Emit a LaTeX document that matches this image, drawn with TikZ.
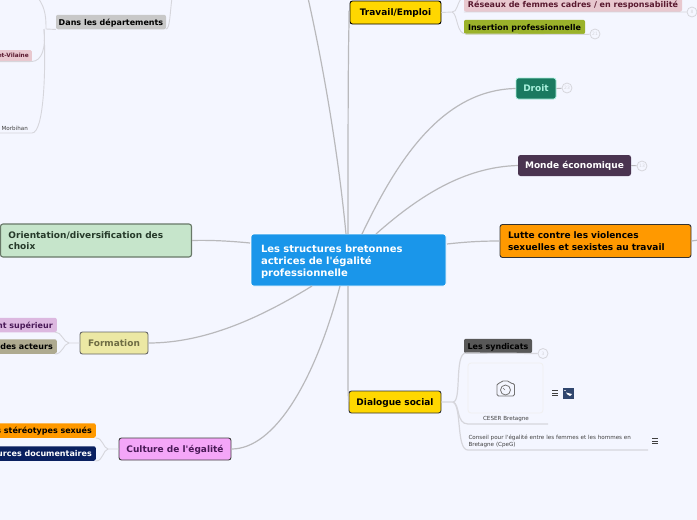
\documentclass[tikz,border=0pt]{standalone}
\usepackage{fontspec}
\setmainfont{DejaVu Sans}
\newfontfamily\straightf{DejaVu Sans}
\newcommand{\ap}{{\straightf'}}
\definecolor{bgc}{HTML}{F4F6FF}
\definecolor{linkmain}{HTML}{B9B9BC}
\definecolor{linksub}{HTML}{D6D6DC}
\definecolor{centralc}{HTML}{1A96EA}
\definecolor{yellowc}{HTML}{FFD700}
\definecolor{pinkc}{HTML}{E8C8CF}
\definecolor{maroonc}{HTML}{5A1A30}
\definecolor{olivec}{HTML}{9AB22A}
\definecolor{droitc}{HTML}{1A7A60}
\definecolor{droitt}{HTML}{A8F0DC}
\definecolor{mondec}{HTML}{4A3450}
\definecolor{orangec}{HTML}{FF9900}
\definecolor{synd}{HTML}{585858}
\definecolor{orientc}{HTML}{C6E5CB}
\definecolor{orientb}{HTML}{687868}
\definecolor{orientt}{HTML}{263A2A}
\definecolor{formc}{HTML}{ECE8A4}
\definecolor{formt}{HTML}{6E6C44}
\definecolor{ensc}{HTML}{DCB8E0}
\definecolor{enst}{HTML}{4A1A58}
\definecolor{acteurc}{HTML}{AEAA90}
\definecolor{cultc}{HTML}{F4A6F8}
\definecolor{navyc}{HTML}{0A2060}
\definecolor{grayc}{HTML}{C8C8C8}
\definecolor{iconc}{HTML}{30466E}
\tikzset{
  x=1pt,y=-1pt,
  boxn/.style={rectangle,rounded corners=2.5pt,inner sep=0pt,font=\bfseries\fontsize{9}{11.5}\selectfont,align=center},
  oneline/.style={text height=8pt,text depth=1.4pt},
  mainbox/.style={boxn,draw=#1,line width=0.9pt},
  subn/.style={boxn,oneline,rounded corners=2pt,font=\bfseries\fontsize{8}{10}\selectfont,minimum height=14.5pt},
  mainlink/.style={draw=linkmain,line width=1.2pt},
  sublink/.style={draw=linksub,line width=0.9pt},
  countc/.style={circle,draw=linksub,line width=0.8pt,minimum size=10pt,inner sep=0pt,font=\fontsize{4.5}{5}\selectfont,text=linksub},
  plain/.style={inner sep=0pt,text=black!75,font=\fontsize{5.6}{7.2}\selectfont,align=left},
}
\begin{document}
\begin{tikzpicture}
\useasboundingbox (0,0) rectangle (697,520);
\clip (0,0) rectangle (697,520);
\fill[bgc] (0,0) rectangle (697,520);

% anchor points on the central topic and free ends
\coordinate (cTopOff) at (308,-2);
\coordinate (cA) at (346,234);
\coordinate (cB) at (348,234);
\coordinate (cC) at (362,234);
\coordinate (cD) at (376,234);
\coordinate (cE) at (447,244);
\coordinate (cF) at (250,243);
\coordinate (cG) at (312,286);
\coordinate (cH) at (340,286);
\coordinate (cI) at (348,286);

% nodes
\node[boxn,draw=white,line width=0.8pt,fill=centralc,text=white,minimum width=195pt,minimum height=52pt,text width=175pt,align=left,font=\bfseries\fontsize{10}{12}\selectfont] (central) at (348.5,260) {\rule{0pt}{12pt}Les structures bretonnes\\actrices de l\ap égalité\\professionnelle};

\node[mainbox=black,oneline,fill=yellowc,minimum width=91pt,minimum height=23pt] (travail) at (395.5,12.5) {Travail/Emploi};
\node[subn,fill=pinkc,text=maroonc,minimum width=218pt] (reseaux) at (573,4.5) {Réseaux de femmes cadres / en responsabilité};
\node[subn,fill=olivec,text=black,minimum width=121pt] (insertion) at (524.5,27) {Insertion professionnelle};
\node[boxn,oneline,draw=droitt,line width=0.7pt,fill=droitc,text=droitt,minimum width=40pt,minimum height=21pt] (droit) at (536,88.5) {Droit};
\node[boxn,oneline,fill=mondec,text=white,minimum width=113pt,minimum height=21pt] (monde) at (574.5,165.5) {Monde économique};
\node[mainbox=black!80,fill=orangec,minimum width=191pt,minimum height=33pt,text width=175pt,align=left] (lutte) at (595.5,241) {Lutte contre les violences\\sexuelles et sexistes au travail};

\node[mainbox=black!80,oneline,fill=yellowc,minimum width=92pt,minimum height=22pt] (dialogue) at (395,402) {Dialogue social};
\node[subn,fill=synd,text=black,minimum width=68pt] (syndicats) at (498,346) {Les syndicats};
\node[rectangle,rounded corners=3pt,draw=black!6,line width=0.8pt,fill=bgc,minimum width=75pt,minimum height=50pt,inner sep=0pt] (image) at (505.5,388) {};
\node[plain] (ceser) at (506,419) {CESER Bretagne};
\node[plain,text width=175pt] (conseil) at (556,441.5) {Conseil pour l\ap égalité entre les femmes et les hommes en\\Bretagne (CpeG)};

\node[mainbox=orientb,line width=1.1pt,fill=orientc,text=orientt,minimum width=191pt,minimum height=33pt,text width=175pt,align=left] (orient) at (96,240.5) {Orientation/diversification des\\choix};
\node[mainbox=black!60,oneline,fill=formc,text=formt,minimum width=68pt,minimum height=22pt] (formation) at (114,343) {Formation};
\node[subn,fill=ensc,text=enst,anchor=east] (ens) at (57,325) {\hspace{8pt}Enseignement supérieur\hspace{4pt}};
\node[subn,fill=acteurc,text=black,anchor=east] (acteurs) at (57,346.5) {\hspace{8pt}Formation des acteurs\hspace{4pt}};
\node[mainbox=black!75,oneline,fill=cultc,text=enst,minimum width=112pt,minimum height=22pt] (culture) at (175,449) {Culture de l\ap égalité};
\node[subn,fill=orangec,text=black,anchor=east] (stereo) at (96,430.5) {\hspace{8pt}Les stéréotypes sexués\hspace{4pt}};
\node[subn,fill=navyc,text=white,anchor=east] (ressources) at (96,453.5) {\hspace{8pt}Ressources documentaires\hspace{4pt}};

\node[subn,fill=grayc,text=black,minimum width=110pt] (dept) at (111,22) {Dans les départements};
\node[boxn,rounded corners=1.5pt,fill=pinkc,text=maroonc,text height=4.6pt,text depth=1.2pt,minimum height=12pt,font=\bfseries\fontsize{5.8}{7}\selectfont,anchor=east] (ille) at (32,56) {\hspace{4pt}Ille-et-Vilaine\hspace{3pt}};
\node[plain,anchor=east] (morbihan) at (28,128) {Morbihan};

% count circles
\node[countc] (n8) at (692,12) {8};
\node[countc] (n21) at (595,34) {21};
\node[countc] (n23) at (567,88) {23};
\node[countc] (n13) at (642,166) {13};
\node[countc] (n3) at (543,353.5) {3};

% free ends
\coordinate (lutteOff) at (699,240);
\coordinate (deptR) at (166,29);
\coordinate (deptUp) at (172,-2);
\coordinate (hubL) at (46,29);
\coordinate (hubUp) at (38,-2);
\coordinate (ceserEnd) at (548,424);
\coordinate (conseilEnd) at (648,450);
\coordinate (illeEnd) at (0,61.5);
\coordinate (morbEnd) at (0,133);

% main links
\draw[mainlink] (cA) .. controls (338,150) and (322,60) .. (cTopOff);
\draw[mainlink] (cB) .. controls (348,160) and (348,60) .. (349,24) -- (349,12) -- (travail.west);
\draw[mainlink] (cC) .. controls (395,165) and (440,90) .. (droit.west);
\draw[mainlink] (cD) .. controls (420,195) and (465,167) .. (monde.west);
\draw[mainlink] (cE) .. controls (465,242) and (480,241) .. (lutte.west);
\draw[mainlink] (lutte.east) -- (lutteOff);
\draw[mainlink] (cF) .. controls (230,241) and (210,240) .. (orient.east);
\draw[mainlink] (cG) .. controls (260,318) and (205,343) .. (formation.east);
\draw[mainlink] (cH) .. controls (315,380) and (275,449) .. (culture.east);
\draw[mainlink] (cI) -- (348,385) .. controls (348,396) and (349,402) .. (dialogue.west);

% sub links
\draw[sublink] (travail.east) -- (452,12) .. controls (458,12) and (456,4) .. (462,-2);
\draw[sublink] (452,12) .. controls (458,14) and (456,34) .. (466,34) -- (insertion.south east) -- (n21);
\draw[sublink] (reseaux.south west) -- (reseaux.south east) -- (n8);
\draw[mainlink,line width=0.9pt] (droit.east) -- (n23);
\draw[mainlink,line width=0.9pt] (monde.east) -- (n13);
\draw[sublink,line width=1.2pt] (dialogue.east) -- (453,402) .. controls (462,402) and (454,353) .. (466,353) -- (syndicats.south east) -- (n3);
\draw[sublink,line width=1.2pt] (453,402) .. controls (460,404) and (456,424) .. (468,424) -- (ceserEnd);
\draw[sublink,line width=1.2pt] (453,402) .. controls (462,406) and (456,450) .. (468,450) -- (conseilEnd);
\draw[sublink] (formation.west) -- (69,343) .. controls (63,342) and (62,332) .. (55,332) -- (ens.south east);
\draw[sublink] (69,343) .. controls (63,344) and (63,354) .. (55,354) -- (acteurs.south east);
\draw[sublink] (culture.west) -- (108,449) .. controls (103,448) and (103,438) .. (96,438) -- (stereo.south east);
\draw[sublink] (108,449) .. controls (103,450) and (103,461) .. (96,461) -- (ressources.south east);
\draw[sublink] (deptR) .. controls (170,29) and (170,12) .. (deptUp);
\draw[sublink] (dept.south west) -- (hubL);
\draw[sublink] (hubL) .. controls (46,20) and (46,8) .. (hubUp);
\draw[sublink] (44,29) .. controls (46,48) and (42,61) .. (32,61.5) -- (illeEnd);
\draw[sublink] (44,29) .. controls (46,70) and (44,133) .. (32,133) -- (morbEnd);

% camera icon
\draw[black!55,line width=0.8pt,rounded corners=1.5pt] (497,383.5) -- (500,383.5) -- (501.5,381) -- (509,381) -- (510.5,383.5) -- (514.5,383.5) -- (514.5,396) -- (497,396) -- cycle;
\draw[black!55,line width=0.8pt] (505.5,390) circle (5pt);
\draw[black!55,line width=0.6pt] (503,388) -- (505,390);

% menu icons
\foreach \yy in {390.5,393,395.5} \draw[black!75,line width=0.8pt] (552,\yy) -- (558,\yy);
\foreach \yy in {438.5,441,443.5} \draw[black!75,line width=0.8pt] (652,\yy) -- (658,\yy);
\fill[iconc] (562.5,387.5) rectangle (573.5,398.5);
\fill[white] (566,392.5) -- (572,394) -- (570,396) -- (567.5,394.5) -- cycle;
\fill[white!70!iconc] (564,389.5) rectangle (566,391);
\end{tikzpicture}
\end{document}
